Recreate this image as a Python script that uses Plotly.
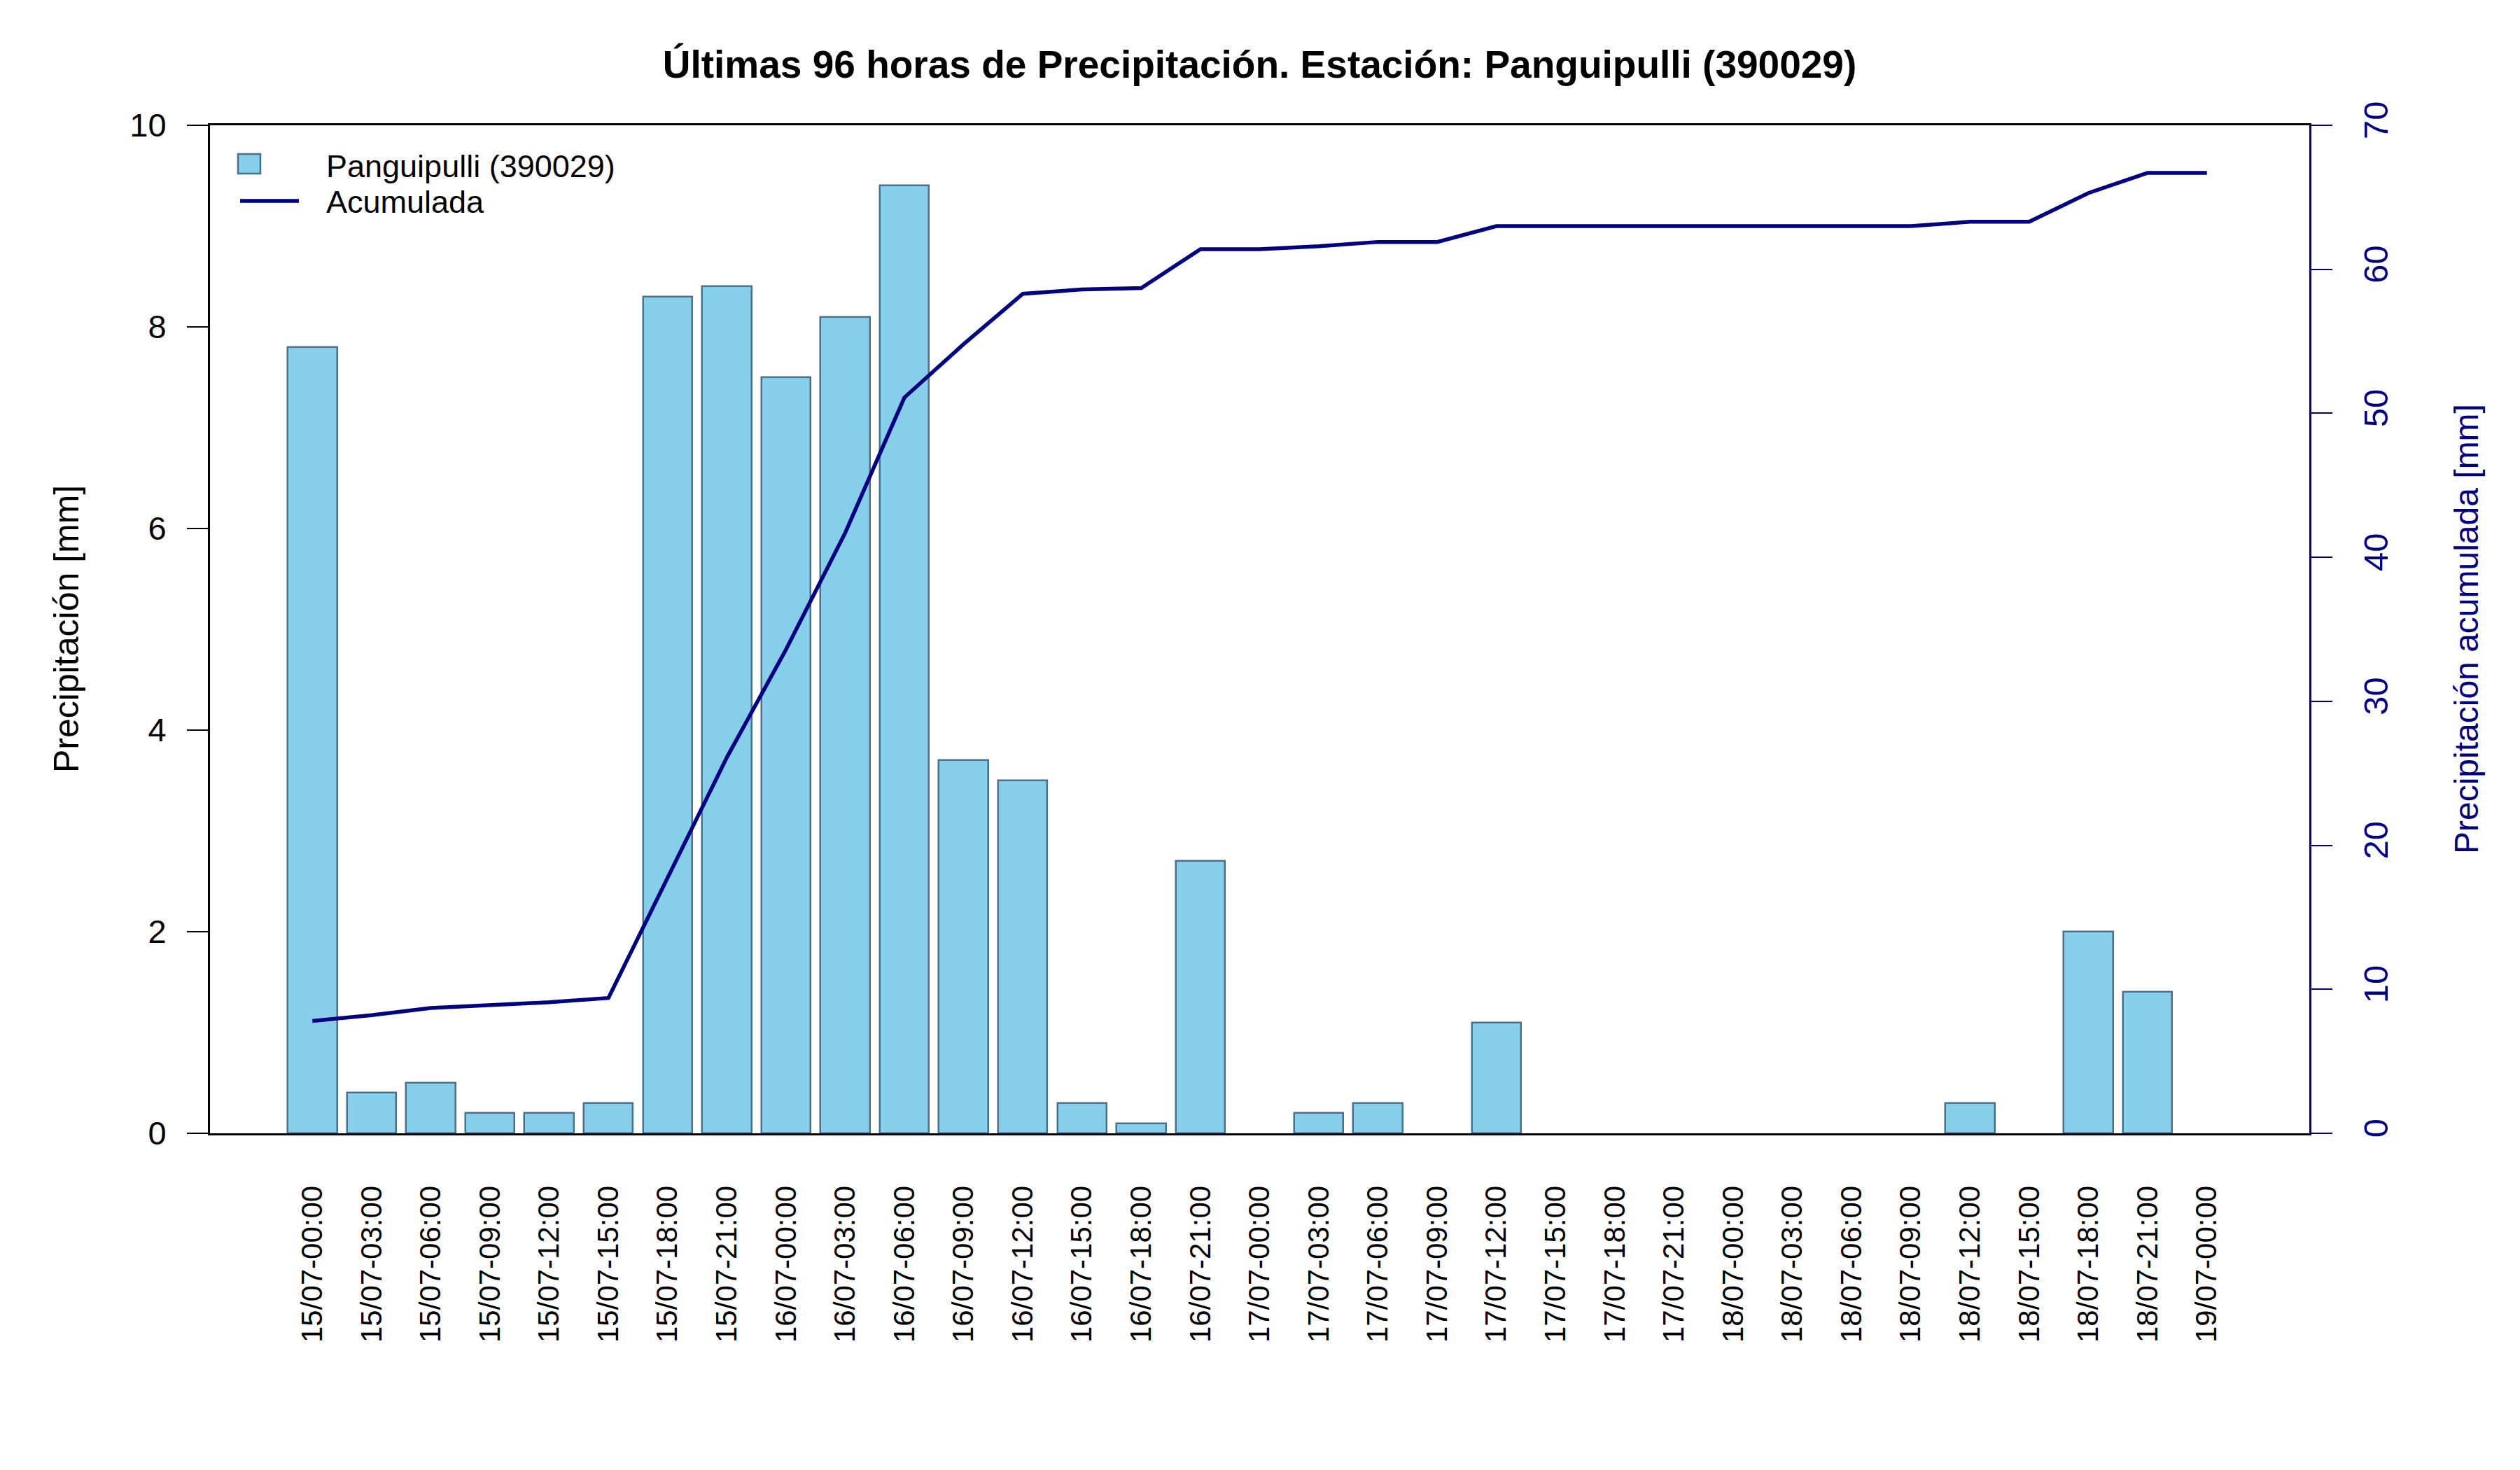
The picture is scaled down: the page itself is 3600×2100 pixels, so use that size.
import plotly.graph_objects as go

# ---- data ----
categories = [
    "15/07-00:00", "15/07-03:00", "15/07-06:00", "15/07-09:00", "15/07-12:00",
    "15/07-15:00", "15/07-18:00", "15/07-21:00", "16/07-00:00", "16/07-03:00",
    "16/07-06:00", "16/07-09:00", "16/07-12:00", "16/07-15:00", "16/07-18:00",
    "16/07-21:00", "17/07-00:00", "17/07-03:00", "17/07-06:00", "17/07-09:00",
    "17/07-12:00", "17/07-15:00", "17/07-18:00", "17/07-21:00", "18/07-00:00",
    "18/07-03:00", "18/07-06:00", "18/07-09:00", "18/07-12:00", "18/07-15:00",
    "18/07-18:00", "18/07-21:00", "19/07-00:00",
]
precip = [
    7.8, 0.4, 0.5, 0.2, 0.2, 0.3, 8.3, 8.4, 7.5, 8.1,
    9.4, 3.7, 3.5, 0.3, 0.1, 2.7, 0.0, 0.2, 0.3, 0.0,
    1.1, 0.0, 0.0, 0.0, 0.0, 0.0, 0.0, 0.0, 0.3, 0.0,
    2.0, 1.4, 0.0,
]
acumulada = [
    7.8, 8.2, 8.7, 8.9, 9.1, 9.4, 17.7, 26.1, 33.6, 41.7,
    51.1, 54.8, 58.3, 58.6, 58.7, 61.4, 61.4, 61.6, 61.9, 61.9,
    63.0, 63.0, 63.0, 63.0, 63.0, 63.0, 63.0, 63.0, 63.3, 63.3,
    65.3, 66.7, 66.7,
]
left_ticks = [0, 2, 4, 6, 8, 10]
right_ticks = [0, 10, 20, 30, 40, 50, 60, 70]

series_name = "Panguipulli (390029)"
line_name = "Acumulada"
title_text = "Últimas 96 horas de Precipitación. Estación: Panguipulli (390029)"

FONT = "Liberation Sans, Arial, Helvetica, sans-serif"
NAVY = "#000080"
BAR_FILL = "#87CEEB"
BAR_EDGE = "#4A708B"

idx = list(range(len(categories)))
edge_widths = [2.5 if v > 0 else 0 for v in precip]

fig = go.Figure()
fig.add_trace(go.Bar(
    x=idx, y=precip, width=1 / 1.2, name=series_name,
    marker=dict(color=BAR_FILL, line=dict(color=BAR_EDGE, width=edge_widths)),
    showlegend=False,
))
fig.add_trace(go.Scatter(
    x=idx, y=acumulada, yaxis="y2", mode="lines", name=line_name,
    line=dict(color=NAVY, width=5.5), showlegend=False,
))

W, H = 3600, 2100
L, R, T, B = 300, 301, 179, 481
pw, ph = W - L - R, H - T - B


def px(xp):
    return (xp - L) / pw


def py(yp):
    return (H - B - yp) / ph


fig.update_layout(
    width=W, height=H,
    margin=dict(l=L, r=R, t=T, b=B, autoexpand=False),
    paper_bgcolor="white", plot_bgcolor="white",
    font=dict(family=FONT, color="black"),
    showlegend=False,
    bargap=0,
    title=dict(
        text="<b>" + title_text + "</b>",
        x=0.5, xanchor="center", xref="paper",
        y=1 - 92 / H, yanchor="middle", yref="container",
        font=dict(size=55, family=FONT, color="black"),
    ),
    xaxis=dict(
        range=[-1.73, 33.73], tickmode="array", tickvals=idx, ticktext=categories,
        tickangle=-90, tickfont=dict(size=42, family=FONT, color="black"),
        showgrid=False, zeroline=False, ticks="", ticklabelstandoff=55,
        showline=True, linecolor="black", linewidth=3, mirror=True,
        fixedrange=True,
    ),
    yaxis=dict(
        range=[0, 10], tickmode="array", tickvals=left_ticks,
        tickfont=dict(size=47, family=FONT, color="black"),
        showgrid=False, zeroline=False, ticks="outside", ticklen=30, tickwidth=2,
        tickcolor="black", showline=True, linecolor="black", linewidth=3,
        ticklabelstandoff=20,
    ),
    yaxis2=dict(
        range=[0, 70], tickmode="array", tickvals=right_ticks, overlaying="y",
        side="right", tickangle=-90,
        tickfont=dict(size=49, family=FONT, color=NAVY),
        showgrid=False, zeroline=False, ticks="outside", ticklen=30, tickwidth=2,
        tickcolor=NAVY, showline=True, linecolor=NAVY, linewidth=3,
        ticklabelstandoff=20,
    ),
)

# axis titles
fig.add_annotation(
    text="Precipitación [mm]", xref="paper", yref="paper",
    x=px(95), y=0.5, xanchor="center", yanchor="middle", textangle=-90,
    showarrow=False, font=dict(size=50, family=FONT, color="black"),
)
fig.add_annotation(
    text="Precipitación acumulada [mm]", xref="paper", yref="paper",
    x=px(3523), y=0.5, xanchor="center", yanchor="middle", textangle=-90,
    showarrow=False, font=dict(size=48, family=FONT, color=NAVY),
)

# legend (drawn manually to match reference symbol sizes)
fig.add_shape(
    type="rect", xref="paper", yref="paper",
    x0=px(340), x1=px(372), y0=py(248), y1=py(220),
    fillcolor=BAR_FILL, line=dict(color=BAR_EDGE, width=2.5),
)
fig.add_shape(
    type="line", xref="paper", yref="paper",
    x0=px(343), x1=px(427), y0=py(287), y1=py(287),
    line=dict(color=NAVY, width=5.5),
)
fig.add_annotation(
    text=series_name, xref="paper", yref="paper", x=px(464), y=py(238),
    xanchor="left", yanchor="middle", showarrow=False,
    font=dict(size=45, family=FONT, color="black"),
)
fig.add_annotation(
    text=line_name, xref="paper", yref="paper", x=px(464), y=py(289),
    xanchor="left", yanchor="middle", showarrow=False,
    font=dict(size=45, family=FONT, color="black"),
)

fig.write_html("out.html")
